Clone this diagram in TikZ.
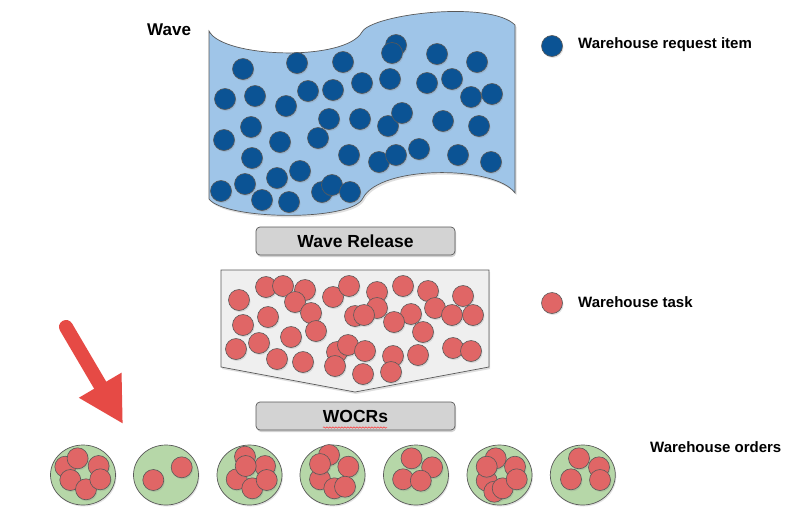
\documentclass[tikz,border=0pt]{standalone}
\usepackage{fontspec}
\setmainfont{Liberation Sans}
\usetikzlibrary{shapes.geometric,shadows,arrows.meta,decorations.pathmorphing}
\definecolor{dblue}{HTML}{0B5394}
\definecolor{lblue}{HTML}{9FC5E8}
\definecolor{lred}{HTML}{E06666}
\definecolor{lgreen}{HTML}{B6D7A8}
\definecolor{btngray}{HTML}{D3D3D3}
\definecolor{boxgray}{HTML}{EFEFEF}
\definecolor{edgegray}{HTML}{595959}
\definecolor{arrowred}{HTML}{E64A45}
\begin{document}
\begin{tikzpicture}[x=1pt,y=-1pt,
  softshadow/.style={drop shadow={opacity=0.22,shadow xshift=1pt,shadow yshift=-1.5pt}},
  bluedot/.style={circle,draw=edgegray,line width=0.6pt,fill=dblue,minimum size=21pt,inner sep=0pt,softshadow},
  reddot/.style={circle,draw=edgegray,line width=0.6pt,fill=lred,minimum size=21pt,inner sep=0pt,softshadow},
  gdot/.style={circle,draw=edgegray,line width=0.6pt,fill=lred,minimum size=21pt,inner sep=0pt,softshadow},
  grp/.style={ellipse,draw=edgegray,line width=0.7pt,fill=lgreen,minimum width=65pt,minimum height=60pt,inner sep=0pt,softshadow},
  btn/.style={rectangle,rounded corners=4pt,draw=edgegray,line width=0.7pt,fill=btngray,minimum width=199pt,minimum height=28pt,inner sep=0pt,font=\fontsize{17.5}{20}\selectfont\bfseries,drop shadow={opacity=0.35,shadow xshift=1pt,shadow yshift=-2pt}},
  lbl/.style={anchor=west,inner sep=0pt,font=\fontsize{15}{18}\selectfont\bfseries}
]
\useasboundingbox (0,0) rectangle (803,509);
\fill[white] (0,0) rectangle (803,509);

% wave shape
\path[draw=edgegray,line width=0.7pt,fill=lblue,drop shadow={opacity=0.25,shadow xshift=1.5pt,shadow yshift=-2pt}]
  (209,31) .. controls (222,58) and (345,62) .. (362,32)
  .. controls (372,14) and (490,0) .. (515,25)
  -- (515,193)
  .. controls (495,165) and (380,165) .. (363,198)
  .. controls (352,222) and (225,220) .. (209,199) -- cycle;

\node[anchor=west,inner sep=0pt,font=\fontsize{17}{20}\selectfont\bfseries] (wavelbl) at (147,30) {Wave};

\foreach \x/\y [count=\i] in {243/69,297/63,343/62,396/45,392/53,437/54,477/62,362/83,390/79,427/83,452/79,308/91,333/90,225/99,255/96,286/106,471/97,492/94,329/119,360/119,388/126,402/113,443/121,479/126,251/127,224/140,280/142,318/138,252/158,349/155,379/162,396/155,419/149,458/155,491/162,300/171,277/178,245/184,221/191,262/200,289/202,322/192,332/185,350/192}
  \node[bluedot] (b\i) at (\x,\y) {};

% legend
\node[bluedot] (legb) at (552,46) {};
\node[lbl] (legbt) at (578,45) {Warehouse request item};
\node[reddot] (legr) at (552,303) {};
\node[lbl] (legrt) at (578,302) {Warehouse task};

% wave release
\node[btn] (wr) at (355.5,241) {Wave Release};

% task box
\path[draw=edgegray,line width=0.7pt,fill=boxgray,drop shadow={opacity=0.25,shadow xshift=1pt,shadow yshift=-2pt}]
  (221,270) -- (489,270) -- (489,367) -- (355,392) -- (221,367) -- cycle;

\foreach \x/\y [count=\i] in {239/300,266/287,283/286,305/290,295/302,311/313,333/297,349/286,377/292,377/308,355/316,364/315,403/286,428/291,463/296,435/308,452/315,473/315,411/314,394/322,423/332,243/325,268/317,316/331,291/337,259/343,236/349,277/359,303/362,337/352,348/345,365/351,335/366,363/374,393/356,391/372,418/355,453/348,471/351}
  \node[reddot] (r\i) at (\x,\y) {};

% WOCRs
\node[btn] (wocr) at (355.5,416) {WOCRs};
\coordinate (ulA) at (323,427.5);
\coordinate (ulB) at (387,427.5);
\draw[red!80,line width=0.5pt,decorate,decoration={snake,amplitude=0.7pt,segment length=3pt}] (ulA) -- (ulB);

% warehouse orders
\node[lbl] (wol) at (650,447) {Warehouse orders};

\node[grp] (g1) at (83,475) {};
\foreach \dx/\dy [count=\i] in {-17.7/-8.3,-5.4/-16.7,15.6/-9,-12.7/5,3/14.3,17.3/4.3}
  \node[gdot] (g1d\i) at ([shift={(\dx,\dy)}]g1.center) {};
\node[grp] (g2) at (166,475) {};
\foreach \dx/\dy [count=\i] in {-12.7/5,15.7/-7.7}
  \node[gdot] (g2d\i) at ([shift={(\dx,\dy)}]g2.center) {};
\node[grp] (g3) at (249.5,475) {};
\foreach \dx/\dy [count=\i] in {-4.5/-18.3,15.5/-9,-12.8/4.3,2.8/13.3,17.2/5,-3.8/-9}
  \node[gdot] (g3d\i) at ([shift={(\dx,\dy)}]g3.center) {};
\node[grp] (g4) at (332.5,475) {};
\foreach \dx/\dy [count=\i] in {-3.5/-20,15.8/-8.3,-12.5/4.3,1.8/13.3,12.5/11.7,-12.5/-11}
  \node[gdot] (g4d\i) at ([shift={(\dx,\dy)}]g4.center) {};
\node[grp] (g5) at (416,475) {};
\foreach \dx/\dy [count=\i] in {-4.5/-16.7,16.1/-7.7,-12.9/4.3,4.8/5.7}
  \node[gdot] (g5d\i) at ([shift={(\dx,\dy)}]g5.center) {};
\node[grp] (g6) at (499.5,475) {};
\foreach \dx/\dy [count=\i] in {-3.8/-16.7,15.5/-8.3,-12.8/5.7,-5.2/16.7,3.2/13.3,17.2/4.3,-12.8/-8.3}
  \node[gdot] (g6d\i) at ([shift={(\dx,\dy)}]g6.center) {};
\node[grp] (g7) at (582.8,475) {};
\foreach \dx/\dy [count=\i] in {-3.8/-16.7,16.2/-7.7,-11.8/4.3,17.2/5}
  \node[gdot] (g7d\i) at ([shift={(\dx,\dy)}]g7.center) {};

% red arrow
\coordinate (aS) at (66,327);
\coordinate (aT) at (123,424);
\draw[arrowred,line width=14pt,line cap=round,-{Triangle[length=45pt,width=46pt]}] (aS) -- (aT);
\end{tikzpicture}
\end{document}
